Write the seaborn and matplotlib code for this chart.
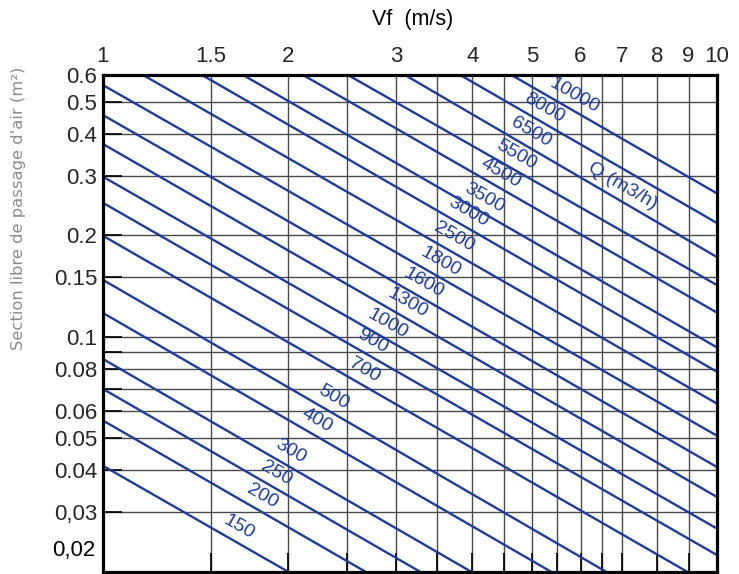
import numpy as np
import pandas as pd
import matplotlib
matplotlib.use("Agg")
import matplotlib.pyplot as plt
import seaborn as sns
from matplotlib.ticker import FixedLocator, FixedFormatter, NullFormatter

# ---------------- data ----------------
flow_labels = ["10000", "8000", "6500", "5500", "4500", "3500", "3000", "2500",
               "1800", "1600", "1300", "1000", "900", "700", "500", "400",
               "300", "250", "200", "150"]
v_start = [4.63, 3.82, 3.105, 2.507, 2.118, 1.691, 1.450, 1.162,
           1, 1, 1, 1, 1, 1, 1, 1, 1, 1, 1, 1]
s_start = [0.6, 0.6, 0.6, 0.6, 0.6, 0.6, 0.6, 0.6,
           0.560, 0.456, 0.374, 0.299, 0.250, 0.1995, 0.1475, 0.1176,
           0.0858, 0.0699, 0.0563, 0.0413]
v_end = [10, 10, 10, 10, 10, 10, 10, 10, 10, 10, 10, 10, 10,
         8.95, 6.60, 5.37, 3.98, 3.285, 2.677, 2.002]
s_end = [0.267, 0.218, 0.1726, 0.1425, 0.118, 0.0930, 0.0787, 0.0633,
         0.0508, 0.0410, 0.0334, 0.0269, 0.02244,
         0.02, 0.02, 0.02, 0.02, 0.02, 0.02, 0.02]
label_v = [5.72, 5.11, 4.85, 4.59, 4.34, 4.08, 3.83, 3.64, 3.46, 3.25,
           3.06, 2.835, 2.68, 2.60, 2.31, 2.17, 1.97, 1.87, 1.77, 1.62]

unit_text = "Q (m3/h)"
unit_line = "6500"
unit_v = 6.85

x_ticks = [1, 1.5, 2, 3, 4, 5, 6, 7, 8, 9, 10]
x_tick_labels = ["1", "1.5", "2", "3", "4", "5", "6", "7", "8", "9", "10"]
x_minor = [2.5, 3.5, 4.5, 5.5, 6.5]
y_ticks = [0.6, 0.5, 0.4, 0.3, 0.2, 0.15, 0.1, 0.08, 0.06, 0.05, 0.04, 0.03]
y_tick_labels = ["0.6", "0.5", "0.4", "0.3", "0.2", "0.15", "0.1", "0.08",
                 "0.06", "0.05", "0.04", "0,03"]
y_minor = [0.09, 0.07]
y_extra_label = "0,02"
y_extra_pos = 0.0235

x_title = "Vf  (m/s)"
y_title = "Section libre de passage d'air (m²)"

# ---------------- build table ----------------
rows = []
for q, v0, s0, v1, s1 in zip(flow_labels, v_start, s_start, v_end, s_end):
    rows.append({"Q": q, "V": v0, "S": s0})
    rows.append({"Q": q, "V": v1, "S": s1})
df = pd.DataFrame(rows)

# ---------------- style ----------------
sns.set_style("white")
plt.rcParams["font.family"] = ["Liberation Sans", "DejaVu Sans"]

BLUE = "#1d3c9e"
W, H = 739, 574
fig = plt.figure(figsize=(W / 100, H / 100), dpi=100)
ax = fig.add_axes([103 / W, (H - 571.7) / H, (716.7 - 103) / W, (571.7 - 75) / H])
ax.set_xscale("log")
ax.set_yscale("log")

sns.lineplot(data=df, x="V", y="S", units="Q", estimator=None, sort=False,
             color=BLUE, linewidth=1.7, legend=False, ax=ax)

ax.set_xlim(1, 10)
ax.set_ylim(0.02, 0.6)
ax.set_xlabel("")
ax.set_ylabel("")

ax.xaxis.set_major_locator(FixedLocator(x_ticks))
ax.xaxis.set_major_formatter(FixedFormatter(x_tick_labels))
ax.xaxis.set_minor_locator(FixedLocator(x_minor))
ax.xaxis.set_minor_formatter(NullFormatter())
ax.yaxis.set_major_locator(FixedLocator(y_ticks))
ax.yaxis.set_major_formatter(FixedFormatter(y_tick_labels))
ax.yaxis.set_minor_locator(FixedLocator(y_minor))
ax.yaxis.set_minor_formatter(NullFormatter())

ax.tick_params(axis="x", which="both", direction="in", bottom=True, top=False,
               labelbottom=False, labeltop=True, length=14, width=1.2,
               color="black", pad=6, labelsize=16)
ax.tick_params(axis="y", which="both", direction="in", left=True, right=False,
               length=14, width=1.2, color="black", pad=4, labelsize=16)

ax.grid(which="both", color="#4a4a4a", linewidth=1.0)
ax.set_axisbelow(True)

# displaced "0,02" label (no grid line / tick in the original)
ax.annotate(y_extra_label, xy=(0, y_extra_pos), xycoords=("axes fraction", "data"),
            xytext=(-4 - 1.15, 0), textcoords="offset points",
            ha="right", va="center_baseline", fontsize=16, color="black")

for sp in ax.spines.values():
    sp.set_visible(True)
    sp.set_color("black")
    sp.set_linewidth(2.3)

# ---------------- line labels ----------------
def on_line(idx, v):
    lv0, lv1 = np.log10(v_start[idx]), np.log10(v_end[idx])
    ls0, ls1 = np.log10(s_start[idx]), np.log10(s_end[idx])
    t = (np.log10(v) - lv0) / (lv1 - lv0)
    return 10 ** (ls0 + t * (ls1 - ls0))

def angle_of(idx):
    p = ax.transData.transform([(v_start[idx], s_start[idx]), (v_end[idx], s_end[idx])])
    return np.degrees(np.arctan2(p[1, 1] - p[0, 1], p[1, 0] - p[0, 0]))

OFF = 10.0
for i, (q, lv) in enumerate(zip(flow_labels, label_v)):
    ang = angle_of(i)
    nx, ny = -np.sin(np.radians(ang)), np.cos(np.radians(ang))
    ax.annotate(q, xy=(lv, on_line(i, lv)), xytext=(nx * OFF, ny * OFF),
                textcoords="offset points", rotation=ang, rotation_mode="anchor",
                ha="center", va="center", color=BLUE, fontsize=14)

iu = flow_labels.index(unit_line)
ang = angle_of(iu)
nx, ny = -np.sin(np.radians(ang)), np.cos(np.radians(ang))
ax.annotate(unit_text, xy=(unit_v, on_line(iu, unit_v)), xytext=(nx * OFF, ny * OFF),
            textcoords="offset points", rotation=ang, rotation_mode="anchor",
            ha="center", va="center", color=BLUE, fontsize=14)

# ---------------- titles ----------------
fig.text(413 / W, 1 - 20 / H, x_title, ha="center", va="center", fontsize=15.5, color="black")
fig.text(19 / W, 1 - 208 / H, y_title, rotation=90, ha="center", va="center",
         fontsize=11.8, color="#8c8c8c", family=["DejaVu Sans"])

fig.savefig("out.png", dpi=100)
